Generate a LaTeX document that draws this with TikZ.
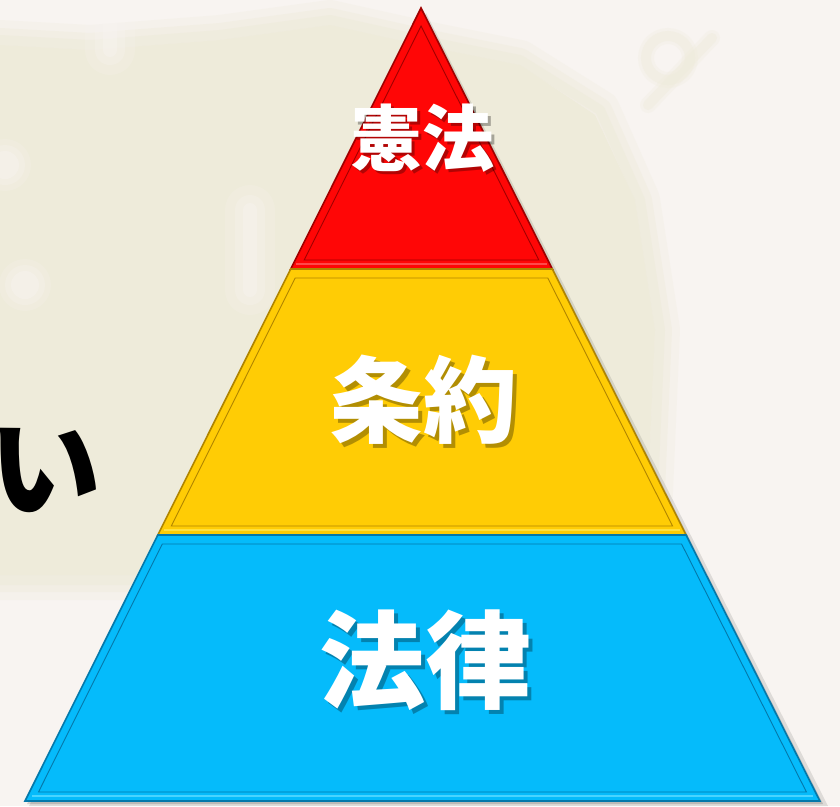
\documentclass[tikz,border=0pt]{standalone}
\usepackage{fontspec}
\newfontfamily\jp{Noto Sans CJK JP}
\begin{document}
\begin{tikzpicture}[x=1pt,y=-1pt,
  lbl/.style={font=\jp\bfseries, text=white, inner sep=0pt},
  shd/.style={font=\jp\bfseries, text=black, text opacity=0.3, inner sep=0pt}]
\definecolor{bgwhite}{HTML}{F8F4F1}
\definecolor{bgcream}{HTML}{EEEBDA}
\definecolor{rfill}{HTML}{FF0606}
\definecolor{rdark}{HTML}{A00000}
\definecolor{rlite}{HTML}{FF4A4A}
\definecolor{yfill}{HTML}{FFCC05}
\definecolor{ydark}{HTML}{B08500}
\definecolor{ylite}{HTML}{FFE040}
\definecolor{bfill}{HTML}{05BBFB}
\definecolor{bdark}{HTML}{0478AA}
\definecolor{blite}{HTML}{4AD4FF}
\useasboundingbox (0,0) rectangle (840,806);
\begin{scope}
\clip (0,0) rectangle (840,806);
% background
\fill[bgwhite] (0,0) rectangle (840,806);
\foreach \w/\o in {40/0.25,24/0.4,10/0.6}{
  \draw[bgcream, line width=\w pt, opacity=\o, line join=round]
    (0,40) -- (90,45) -- (220,35) -- (330,20) -- (420,40) -- (520,60) -- (600,110) -- (640,200) -- (660,330) -- (650,560) -- (420,580) -- (0,580) -- cycle;
}
\fill[bgcream] (0,45) -- (90,50) -- (220,40) -- (330,25) -- (420,45) -- (520,65) -- (595,115) -- (635,200) -- (655,330) -- (645,555) -- (420,575) -- (0,575) -- cycle;
\foreach \r/\o in {26/0.2,20/0.3,14/0.4}{
  \fill[bgwhite, opacity=\o] (25,285) circle (\r);
  \fill[bgwhite, opacity=\o] (5,165) circle (\r);
}
\foreach \w/\o in {50/0.2,30/0.3,14/0.4}{
  \draw[bgwhite, line width=\w pt, opacity=\o, line cap=round] (250,210) -- (250,290);
  \draw[bgwhite, line width=\w pt, opacity=\o, line cap=round] (110,0) -- (110,50);
}
\foreach \w/\o in {16/0.25,10/0.4}{
  \draw[bgcream, line width=\w pt, opacity=\o] (668,58) circle (22);
  \draw[bgcream, line width=\w pt, opacity=\o, line cap=round] (648,105) -- (712,38);
}
\fill[bgwhite, opacity=0.5] (0,600) rectangle (840,806);
% partial hiragana
\node[font=\jp\bfseries, text=black, inner sep=0pt] (hira) at (46,470) {\fontsize{112}{112}\selectfont い};
% pyramid shadow
\fill[black, opacity=0.10] (426,13) -- (828,806) -- (29,806) -- cycle;
\fill[black, opacity=0.15] (423,10) -- (823,804) -- (27,804) -- cycle;
% red
\fill[rfill, draw=rdark, line width=1.6pt, line join=miter] (421,8) -- (552.3,269) -- (290.7,269) -- cycle;
\draw[rlite, line width=2.5pt] (296,264) -- (547,264);
\draw[rdark, line width=0.9pt, line join=miter] (421,26) -- (538.8,260) -- (304.2,260) -- cycle;
% yellow
\fill[yfill, draw=ydark, line width=1.6pt, line join=miter] (290.7,269) -- (552.3,269) -- (686.1,535) -- (157.8,535) -- cycle;
\draw[ylite, line width=2.5pt] (164,530) -- (680,530);
\draw[ydark, line width=0.9pt, line join=miter] (295.2,278) -- (547.8,278) -- (672.6,526) -- (171.3,526) -- cycle;
% blue
\fill[bfill, draw=bdark, line width=1.6pt, line join=miter] (157.8,535) -- (686.1,535) -- (819.9,801) -- (25,801) -- cycle;
\draw[blite, line width=2.5pt] (32,796) -- (813,796);
\draw[bdark, line width=0.9pt, line join=miter] (162.3,544) -- (681.6,544) -- (806.4,792) -- (38.5,792) -- cycle;
% labels
\node[shd] at (425,141) {\fontsize{72}{72}\selectfont 憲法};
\node[lbl] (kenpo) at (422,138) {\fontsize{72}{72}\selectfont 憲法};
\node[shd] at (427,404) {\fontsize{94}{94}\selectfont 条約};
\node[lbl] (joyaku) at (423,400) {\fontsize{94}{94}\selectfont 条約};
\node[shd] at (429,664) {\fontsize{106}{106}\selectfont 法律};
\node[lbl] (horitsu) at (425,660) {\fontsize{106}{106}\selectfont 法律};
\end{scope}
\end{tikzpicture}
\end{document}
